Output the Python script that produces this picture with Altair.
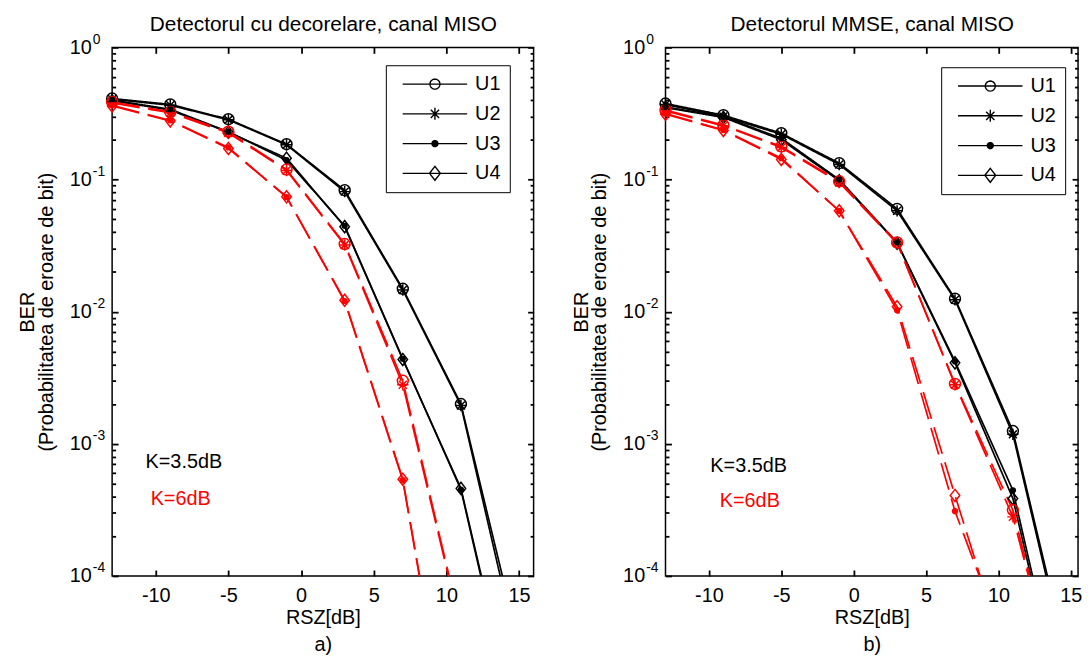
import math
import altair as alt
import pandas as pd

# ---------------- data ----------------
RSZ = [-13, -9, -5, -1, 3, 7, 11, 15]
USERS = ["U1", "U2", "U3", "U4"]
K_LEVELS = ["K=3.5dB", "K=6dB"]

# Panel a) decorrelating detector
DEC_K35_U1 = [0.41, 0.37, 0.286, 0.185, 0.083, 0.0149, 0.0020, 3.0e-5]
DEC_K35_U2 = [0.405, 0.365, 0.283, 0.183, 0.081, 0.0146, 0.00195, 2.4e-5]
DEC_K35_U3 = [0.40, 0.34, 0.23, 0.140, 0.0446, 0.0044, 4.5e-4, 5.5e-6]
DEC_K35_U4 = [0.395, 0.335, 0.228, 0.145, 0.044, 0.00435, 4.6e-4, 6.0e-6]
DEC_K6_U1 = [0.386, 0.325, 0.23, 0.119, 0.0325, 0.0030, 4.2e-5, 5e-7]
DEC_K6_U2 = [0.38, 0.32, 0.225, 0.117, 0.032, 0.0028, 4.0e-5, 4e-7]
DEC_K6_U3 = [0.365, 0.28, 0.175, 0.0736, 0.0120, 5.3e-4, 1.5e-6, 1e-8]
DEC_K6_U4 = [0.36, 0.278, 0.172, 0.074, 0.0122, 5.4e-4, 1.6e-6, 1e-8]

# Panel b) MMSE detector
MMSE_K35_U1 = [0.376, 0.307, 0.224, 0.133, 0.060, 0.01256, 1.25e-3, 1.8e-5]
MMSE_K35_U2 = [0.37, 0.30, 0.22, 0.130, 0.058, 0.0123, 1.18e-3, 1.6e-5]
MMSE_K35_U3 = [0.355, 0.298, 0.205, 0.100, 0.0334, 0.0042, 4.45e-4, 5.5e-6]
MMSE_K35_U4 = [0.35, 0.295, 0.20, 0.098, 0.033, 0.0041, 3.85e-4, 5.0e-6]
MMSE_K6_U1 = [0.335, 0.258, 0.178, 0.097, 0.0334, 0.00284, 3.15e-4, 6e-6]
MMSE_K6_U2 = [0.33, 0.255, 0.175, 0.095, 0.033, 0.0028, 2.8e-4, 6e-6]
MMSE_K6_U3 = [0.316, 0.237, 0.145, 0.0578, 0.01026, 3.09e-4, 2.1e-5, 1e-7]
MMSE_K6_U4 = [0.312, 0.235, 0.142, 0.058, 0.0109, 4.07e-4, 1.6e-5, 1e-7]

TITLE_A = "Detectorul cu decorelare, canal MISO"
TITLE_B = "Detectorul MMSE, canal MISO"
X_TITLE = "RSZ[dB]"
CAPTION_A = "a)"
CAPTION_B = "b)"
Y_TITLE = ["BER", "(Probabilitatea de eroare de bit)"]
X_TICKS = [-10, -5, 0, 5, 10, 15]

# annotations (data coordinates)
ANN_A_X = [-10.7, -10.35]
ANN_A_Y = [7.3e-4, 3.85e-4]
ANN_B_X = [-9.9, -9.25]
ANN_B_Y = [6.8e-4, 3.66e-4]
ANN_TEXT = ["K=3.5dB", "K=6dB"]

# ---------------- styling ----------------
FONT = "Liberation Sans"
H = 533
W_A = 425
W_B = 416
Y_MAJOR = [1e-4, 1e-3, 1e-2, 1e-1, 1.0]
Y_MINOR = [k * 10.0 ** e for e in range(-4, 0) for k in range(2, 10)]

ASTER = "M0,-1L0,1M-1,0L1,0M-0.7,-0.7L0.7,0.7M-0.7,0.7L0.7,-0.7"
DIAM = "M0,-1L0.78,0L0,1L-0.78,0Z"
MARKERS = ["circle", ASTER, "circle", DIAM]
MARKER_SIZES = [121, 150, 36, 169]


def poly_circle(cx, r, n=28):
    pts = [(cx + r * math.cos(2 * math.pi * i / n), r * math.sin(2 * math.pi * i / n)) for i in range(n)]
    return "M" + "L".join(f"{x:.3f},{y:.3f}" for x, y in pts) + "Z"


CX = 3.643
LINE = "M-1,0L8.286,0"
LEG_PATHS = [
    LINE + poly_circle(CX, 0.72),
    LINE + f"M{CX},-0.86L{CX},0.86M{CX-0.6:.3f},-0.6L{CX+0.6:.3f},0.6M{CX-0.6:.3f},0.6L{CX+0.6:.3f},-0.6",
    LINE + poly_circle(CX, 0.43) + poly_circle(CX, 0.30) + poly_circle(CX, 0.17) + poly_circle(CX, 0.05, 8),
    LINE + f"M{CX},-1L{CX+0.78:.3f},0L{CX},1L{CX-0.78:.3f},0Z",
]


def long_table(series):
    rows = []
    for (k, u), vals in series.items():
        for x, v in zip(RSZ, vals):
            rows.append({"K": k, "user": u, "x": x, "ber": v})
    return pd.DataFrame(rows)


def ax(**kw):
    base = dict(grid=False, domain=False, labels=False, ticks=False, title=None)
    base.update(kw)
    return alt.Axis(**base)


def tick_axis(orient, offset, values, size, **kw):
    return ax(orient=orient, offset=offset, ticks=True, values=values, tickSize=size,
              tickWidth=1.8, tickColor="black", **kw)


def panel(df, title, caption, W, xdom, legend_xy, ann_x, ann_y):
    xs = alt.Scale(domain=xdom, nice=False, zero=False)
    ys = alt.Scale(type="log", domain=[1e-4, 1.0], nice=False)
    color = alt.Color("K:N", scale=alt.Scale(domain=K_LEVELS, range=["black", "#ff0000"]), legend=None)

    ax_x_labels = ax(orient="bottom", labels=True, values=X_TICKS, labelExpr="'' + datum.value",
                     labelFontSize=20, labelFont=FONT,
                     labelColor="black", labelPadding=10, labelFlush=False, tickSize=0,
                     title=[X_TITLE, caption], titleFont=FONT, titleFontSize=20, titleFontWeight="normal",
                     titleColor="black", titleY=32, titleX=W / 2, titleAlign="center",
                     titleBaseline="top", titleLineHeight=27)
    ax_x_top = tick_axis("bottom", -H, X_TICKS, 6,
                         title=title, titleFont=FONT, titleFontSize=21, titleFontWeight="normal",
                         titleColor="black", titleX=W / 2, titleY=-17, titleAlign="center",
                         titleBaseline="alphabetic")
    ax_y10 = ax(orient="left", labels=True, values=Y_MAJOR, labelExpr="'10'", labelAlign="right",
                labelBaseline="middle", labelPadding=21, tickSize=0, labelFontSize=20, labelFont=FONT,
                labelColor="black", labelOverlap=False,
                title=Y_TITLE, titleFont=FONT, titleFontSize=20, titleFontWeight="normal",
                titleColor="black", titleX=-95, titleY=H / 2, titleAngle=270, titleAlign="center",
                titleBaseline="top", titleLineHeight=19)
    ax_yexp = ax(orient="left", labels=True, values=Y_MAJOR,
                 labelExpr="'' + round(log(datum.value) / LN10)", labelAlign="left",
                 labelBaseline="middle", labelPadding=20, labelOffset=-8, tickSize=0,
                 labelFontSize=14, labelFont=FONT, labelColor="black", labelOverlap=False)

    base = alt.Chart(df)
    lines = base.mark_line(clip=True, strokeWidth=1.7).encode(
        x=alt.X("x:Q", scale=xs, axis=ax_x_labels),
        y=alt.Y("ber:Q", scale=ys, axis=ax_y10),
        color=color,
        strokeDash=alt.StrokeDash("K:N", scale=alt.Scale(domain=K_LEVELS, range=[[1, 0], [28, 9]]),
                                  legend=None),
        detail="user:N",
        order="x:Q",
    )
    pts = base.transform_filter("datum.ber >= 1e-4 && datum.user != 'U3'").mark_point(
        filled=False, strokeWidth=1.5, opacity=1).encode(
        x=alt.X("x:Q", scale=xs, axis=ax_x_top),
        y=alt.Y("ber:Q", scale=ys, axis=ax_yexp),
        color=color,
        shape=alt.Shape("user:N", scale=alt.Scale(domain=USERS, range=MARKERS), legend=None),
        size=alt.Size("user:N", scale=alt.Scale(domain=USERS, range=MARKER_SIZES), legend=None),
    )
    dots = base.transform_filter("datum.ber >= 1e-4 && datum.user == 'U3'").mark_point(
        filled=True, shape="circle", size=40, opacity=1).encode(
        x=alt.X("x:Q", scale=xs, axis=tick_axis("top", -H, X_TICKS, 6)),
        y=alt.Y("ber:Q", scale=ys, axis=tick_axis("right", -W, Y_MAJOR, 6)),
        color=color,
    )
    leg = base.transform_filter("datum.ber < 0").mark_point(
        filled=False, color="black", strokeWidth=1.4, opacity=1).encode(
        x=alt.X("x:Q", scale=xs, axis=None),
        y=alt.Y("ber:Q", scale=ys, axis=tick_axis("right", -W, Y_MINOR, 3.5)),
        shape=alt.Shape("user:N", scale=alt.Scale(domain=USERS, range=LEG_PATHS),
                        legend=alt.Legend(title=None, orient="none", legendX=legend_xy[0],
                                          legendY=legend_xy[1], padding=9, rowPadding=10,
                                          symbolSize=196, symbolOffset=5, symbolStrokeColor="black",
                                          symbolStrokeWidth=1.4, symbolOpacity=1,
                                          symbolFillColor="transparent", labelOffset=56,
                                          labelFont=FONT, labelFontSize=20, labelColor="black",
                                          strokeColor="black", fillColor="white")),
    )
    t1 = alt.Chart(pd.DataFrame({"x": [ann_x[0]], "ber": [ann_y[0]], "label": [ANN_TEXT[0]]})).mark_text(
        align="left", baseline="middle", font=FONT, fontSize=20, color="black").encode(
        x=alt.X("x:Q", scale=xs, axis=None),
        y=alt.Y("ber:Q", scale=ys, axis=tick_axis("left", -W, Y_MAJOR, 6)),
        text="label:N",
    )
    t2 = alt.Chart(pd.DataFrame({"x": [ann_x[1]], "ber": [ann_y[1]], "label": [ANN_TEXT[1]]})).mark_text(
        align="left", baseline="middle", font=FONT, fontSize=20, color="#ff0000").encode(
        x=alt.X("x:Q", scale=xs, axis=None),
        y=alt.Y("ber:Q", scale=ys, axis=tick_axis("left", -W, Y_MINOR, 3.5)),
        text="label:N",
    )
    return alt.layer(lines, pts, dots, leg, t1, t2).resolve_scale(
        shape="independent").resolve_axis(x="independent", y="independent").properties(
        width=W, height=H)


df_a = long_table({
    ("K=3.5dB", "U1"): DEC_K35_U1, ("K=3.5dB", "U2"): DEC_K35_U2,
    ("K=3.5dB", "U3"): DEC_K35_U3, ("K=3.5dB", "U4"): DEC_K35_U4,
    ("K=6dB", "U1"): DEC_K6_U1, ("K=6dB", "U2"): DEC_K6_U2,
    ("K=6dB", "U3"): DEC_K6_U3, ("K=6dB", "U4"): DEC_K6_U4,
})
df_b = long_table({
    ("K=3.5dB", "U1"): MMSE_K35_U1, ("K=3.5dB", "U2"): MMSE_K35_U2,
    ("K=3.5dB", "U3"): MMSE_K35_U3, ("K=3.5dB", "U4"): MMSE_K35_U4,
    ("K=6dB", "U1"): MMSE_K6_U1, ("K=6dB", "U2"): MMSE_K6_U2,
    ("K=6dB", "U3"): MMSE_K6_U3, ("K=6dB", "U4"): MMSE_K6_U4,
})

left = panel(df_a, TITLE_A, CAPTION_A, W_A, [-13, 16], (276, 18), ANN_A_X, ANN_A_Y)
right = panel(df_b, TITLE_B, CAPTION_B, W_B, [-13, 15.5], (278, 20), ANN_B_X, ANN_B_Y)

chart = alt.hconcat(left, right, spacing=35).properties(
    padding={"left": 9, "top": 2, "right": 0, "bottom": 0}
).configure_view(stroke="black", strokeWidth=1.5).configure_axis(tickColor="black")

chart.save("out.html", embed_options={"renderer": "svg", "actions": False})
